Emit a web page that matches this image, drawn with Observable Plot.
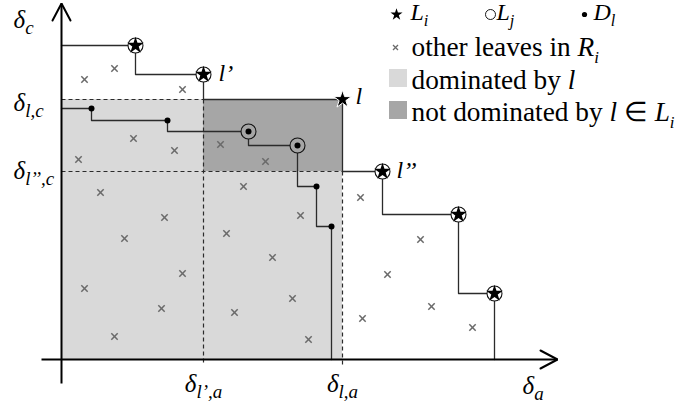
<!DOCTYPE html>
<html><head><meta charset="utf-8">
<script src="https://cdn.jsdelivr.net/npm/d3@7"></script>
<script src="https://cdn.jsdelivr.net/npm/@observablehq/plot@0.6"></script>
<style>html,body{margin:0;padding:0;background:#fff} svg{display:block} svg text{font-family:"Liberation Serif","Times New Roman",serif}</style>
</head><body><div id="chart"></div>
<script>
// ---- data (units: δa horizontal, δc vertical; origin at axes crossing) ----
// Li leaves (stars), ordered along the skyline
const liA = [74, 142, 281, 321, 397, 433];
const liC = [314, 285, 260, 188, 145, 66];
const liName = ["", "l’", "l", "l’’", "", ""];
const liInLj = [true, true, false, true, true, true];
// Dl leaves (dots)
const dlA = [30, 106, 187, 236, 255, 270];
const dlC = [251, 239, 228, 214, 173, 133];
const dlInLj = [false, false, true, true, false, false];
// other leaves in Ri (crosses)
const otherA = [53,23,121,72,113,17,159,204,39,182,299,103,63,121,23,100,53,239,165,211,231,173,247,359,326,370,301,411];
const otherC = [291,280,270,221,209,200,215,198,167,173,162,142,121,86,71,51,23,144,126,102,61,47,20,120,85,53,41,32];
// axis extents
const axisA = [-20, 496];
const axisC = [-24, 356];
// legend texts
const legendItems = ["other leaves in {i:R}{s:i}", "dominated by {i:l}", "not dominated by {i:l} ∈ {i:L}{s:i}"];
const legendTop = ["{i:L}{s:i}", "{i:L}{s:j}", "{i:D}{s:l}"];

// ---- derived tables ----
const li = liA.map((a, i) => ({a, c: liC[i], name: liName[i], lj: liInLj[i]}));
const dl = dlA.map((a, i) => ({a, c: dlC[i], lj: dlInLj[i]}));
const others = otherA.map((a, i) => ({a, c: otherC[i]}));
const L = li[liName.indexOf("l")], L1 = li[liName.indexOf("l’")], L2 = li[liName.indexOf("l’’")];
const liPath = [{a: 0, c: li[0].c}, ...li, {a: li[li.length-1].a, c: 0}];
const dlPath = [{a: 0, c: dl[0].c}, ...dl, {a: dl[dl.length-1].a, c: 0}];
const guides = [
  {a1: 0, c1: L.c, a2: L1.a, c2: L.c},
  {a1: 0, c1: L2.c, a2: L.a, c2: L2.c},
  {a1: L1.a, c1: L.c, a2: L1.a, c2: -5},
  {a1: L.a, c1: L2.c, a2: L.a, c2: -5}
];
const light = "#d9d9d9", dark = "#a6a6a6", ink = "#2b2b2b";
const HL = 17, HW = 9; // arrow head
const axes = [
  {a1: axisA[0], c1: 0, a2: axisA[1], c2: 0},
  {a1: 0, c1: axisC[0], a2: 0, c2: axisC[1]}
];
const heads = [
  {k: "a", a: axisA[1] - HL, c: HW}, {k: "a", a: axisA[1], c: 0}, {k: "a", a: axisA[1] - HL, c: -HW},
  {k: "c", a: -HW, c: axisC[1] - HL}, {k: "c", a: 0, c: axisC[1]}, {k: "c", a: HW, c: axisC[1] - HL}
];
// label layout (in plot units)
const LX = 350;
const legRows = [304, 271, 239];
const nameOffset = new Map([[L1, [15, -6]], [L, [13, -4]], [L2, [14, -6]]]);
const leftLabels = [
  {a: -48, c: axisC[1] - 24, t: "{i:δ}{s:c}"},
  {a: -48, c: L.c - 11, t: "{i:δ}{s:l,c}"},
  {a: -48, c: L2.c - 7, t: "{i:δ}{s:l’’,c}"},
  {a: 461, c: -34, t: "{i:δ}{s:a}"}
];
const tickLabels = [
  {a: L1.a, c: -32, t: "{i:δ}{s:l’,a}"},
  {a: L.a, c: -32, t: "{i:δ}{s:l,a}"}
];

const plot = Plot.plot({
  width: 678, height: 408, margin: 0,
  x: {domain: [-61, 617], range: [0, 678], axis: null},
  y: {domain: [-49, 359], range: [408, 0], axis: null},
  style: {background: "white", overflow: "visible"},
  marks: [
    Plot.rect([L], {x1: () => 0, x2: "a", y1: () => 0, y2: "c", fill: light}),
    Plot.rect([L], {x1: () => L1.a, x2: "a", y1: () => L2.c, y2: "c", fill: dark}),
    Plot.link(guides, {x1: "a1", y1: "c1", x2: "a2", y2: "c2", stroke: ink, strokeWidth: 1.2, strokeDasharray: "4,3"}),
    Plot.line(liPath, {x: "a", y: "c", curve: "step-before", stroke: ink, strokeWidth: 1.3}),
    Plot.line(dlPath, {x: "a", y: "c", curve: "step-before", stroke: ink, strokeWidth: 1.3}),
    Plot.dot(others, {x: "a", y: "c", symbol: "times", r: 3, stroke: "#6a6a6a", strokeWidth: 1.5}),
    Plot.dot(li.filter(d => d.lj), {x: "a", y: "c", r: 7.5, fill: "white", stroke: "#111", strokeWidth: 1.1}),
    Plot.dot(dl.filter(d => d.lj), {x: "a", y: "c", r: 7.5, fill: dark, stroke: "#111", strokeWidth: 1.1}),
    Plot.dot(li.filter(d => d.lj), {x: "a", y: "c", symbol: "star", r: 5.3, fill: "black"}),
    Plot.dot(li.filter(d => !d.lj), {x: "a", y: "c", symbol: "star", r: 5.6, fill: "black", stroke: "white", strokeWidth: 1}),
    Plot.dot(dl, {x: "a", y: "c", r: 3, fill: "black"}),
    Plot.link(axes, {x1: "a1", y1: "c1", x2: "a2", y2: "c2", stroke: "black", strokeWidth: 2}),
    Plot.line(heads, {x: "a", y: "c", z: "k", stroke: "black", strokeWidth: 2, strokeLinejoin: "miter"}),
    // point labels
    Plot.text(li.filter(d => d.name), {x: d => d.a + nameOffset.get(d)[0], y: d => d.c + nameOffset.get(d)[1], text: d => "{i:" + d.name + "}",
      textAnchor: "start", lineAnchor: "bottom", fontSize: 24, fill: "black"}),
    // axis value labels
    Plot.text(leftLabels, {x: "a", y: "c", text: "t", textAnchor: "start", lineAnchor: "bottom", fontSize: 25, fill: "black"}),
    Plot.text(tickLabels, {x: "a", y: "c", text: "t", textAnchor: "middle", lineAnchor: "bottom", fontSize: 25, fill: "black"}),
    // legend
    Plot.dot([0], {x: () => 335, y: () => 345, symbol: "star", r: 3.8, fill: "black"}),
    Plot.dot([0], {x: () => 429, y: () => 345, r: 5, fill: "none", stroke: "black", strokeWidth: 0.9}),
    Plot.dot([0], {x: () => 523, y: () => 345, r: 2.6, fill: "black"}),
    Plot.text(legendTop, {x: (d, i) => [349, 435, 532][i], y: () => 340, text: d => d, textAnchor: "start", lineAnchor: "bottom", fontSize: 24, fill: "black"}),
    Plot.dot([0], {x: () => 334, y: () => 312, symbol: "times", r: 2.4, stroke: "#6a6a6a", strokeWidth: 1.3}),
    Plot.rect([light, dark], {x1: () => 328, x2: () => 346, y1: (d, i) => legRows[i + 1] + 1, y2: (d, i) => legRows[i + 1] + 19, fill: d => d}),
    Plot.text(legendItems, {x: () => LX, y: (d, i) => legRows[i], text: d => d, textAnchor: "start", lineAnchor: "bottom", fontSize: 27.3, fill: "black"})
  ]
});
document.getElementById("chart").appendChild(plot);

// rich text: {i:..} italic, {s:..} italic subscript
const NS = "http://www.w3.org/2000/svg";
plot.querySelectorAll("text").forEach(t => {
  const s = t.textContent;
  if (!s.includes("{")) return;
  const fs = parseFloat(getComputedStyle(t).fontSize) || 10;
  const ratio = fs >= 27 ? 0.62 : fs >= 25 ? 0.76 : 0.68;
  const shiftEm = 0.26;
  while (t.firstChild) t.removeChild(t.firstChild);
  t.style.whiteSpace = "pre";
  t.style.fontFamily = "'Liberation Serif', 'Times New Roman', serif";
  let shift = 0;
  const re = /\{([isu]):([^}]*)\}|([^{]+)/g;
  let m;
  while ((m = re.exec(s))) {
    const span = document.createElementNS(NS, "tspan");
    let txt, italic = false, sub = false;
    if (m[3] !== undefined) txt = m[3];
    else { txt = m[2]; italic = m[1] !== "u"; sub = m[1] !== "i"; }
    span.textContent = txt;
    if (italic) span.setAttribute("font-style", "italic");
    const target = sub ? shiftEm * fs : 0;
    if (target !== shift) { span.setAttribute("dy", target - shift); shift = target; }
    if (sub) span.setAttribute("font-size", ratio * fs);
    t.appendChild(span);
  }
});
</script></body></html>
